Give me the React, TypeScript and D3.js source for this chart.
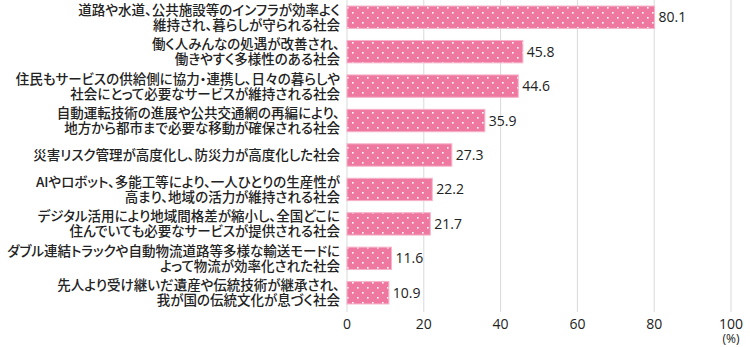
import React from "react";
import * as d3 from "d3";

const categories: string[][] = [
  ["道路や水道、公共施設等のインフラが効率よく", "維持され、暮らしが守られる社会"],
  ["働く人みんなの処遇が改善され、", "働きやすく多様性のある社会"],
  ["住民もサービスの供給側に協力・連携し、日々の暮らしや", "社会にとって必要なサービスが維持される社会"],
  ["自動運転技術の進展や公共交通網の再編により、", "地方から都市まで必要な移動が確保される社会"],
  ["災害リスク管理が高度化し、防災力が高度化した社会"],
  ["AIやロボット、多能工等により、一人ひとりの生産性が", "高まり、地域の活力が維持される社会"],
  ["デジタル活用により地域間格差が縮小し、全国どこに", "住んでいても必要なサービスが提供される社会"],
  ["ダブル連結トラックや自動物流道路等多様な輸送モードに", "よって物流が効率化された社会"],
  ["先人より受け継いだ遺産や伝統技術が継承され、", "我が国の伝統文化が息づく社会"],
];
const values: number[] = [80.1, 45.8, 44.6, 35.9, 27.3, 22.2, 21.7, 11.6, 10.9];
const ticks: number[] = [0, 20, 40, 60, 80, 100];

export default function App() {
  const W = 750, H = 347;
  const x = d3.scaleLinear().domain([0, 100]).range([347, 731]);
  const y = d3.scaleBand<number>().domain(d3.range(values.length)).range([0, 310]).paddingInner(0.35).paddingOuter(0.175);
  const cjk = "'Noto Sans CJK JP', 'Noto Sans', sans-serif";
  const num = "'Open Sans', 'Noto Sans', sans-serif";
  const pitch = 14.8;
  return (
    <svg width={W} height={H} style={{ position: "absolute", left: 0, top: 0 }}>
      <defs>
        <pattern id="dots" width={10} height={10} patternUnits="userSpaceOnUse">
          <rect width={10} height={10} fill="#ee78a0" />
          <rect x={2} y={2} width={1.6} height={1.6} fill="#fff" />
          <rect x={7} y={7} width={1.6} height={1.6} fill="#fff" />
        </pattern>
      </defs>
      {ticks.map((t) => (
        <line key={t} x1={x(t)} x2={x(t)} y1={0} y2={312} stroke="#d9d9d9" strokeWidth={1} />
      ))}
      {values.map((v, i) => {
        const cy = y(i)! + y.bandwidth() / 2;
        const n = categories[i].length;
        return (
          <g key={i}>
            <rect x={x(0)} y={y(i)!} width={x(v) - x(0)} height={y.bandwidth()} fill="url(#dots)" stroke="#f6b3ca" strokeWidth={1} />
            <text x={x(v) + 4} y={cy + 5} fontSize={14} fontFamily={num} fill="#222">{v.toFixed(1)}</text>
            {categories[i].map((line, j) => (
              <text key={j} x={340} y={cy + 5 + (j - (n - 1) / 2) * pitch} fontSize={13.5} fontFamily={cjk} fontWeight={500}
                style={{ fontFeatureSettings: "'palt'" }} textAnchor="end" fill="#222">{line}</text>
            ))}
          </g>
        );
      })}
      {ticks.map((t) => (
        <text key={t} x={x(t)} y={329} fontSize={14} fontFamily={num} textAnchor="middle" fill="#222">{t}</text>
      ))}
      <text x={x(100)} y={343} fontSize={12} fontFamily={num} textAnchor="middle" fill="#222">(%)</text>
    </svg>
  );
}
